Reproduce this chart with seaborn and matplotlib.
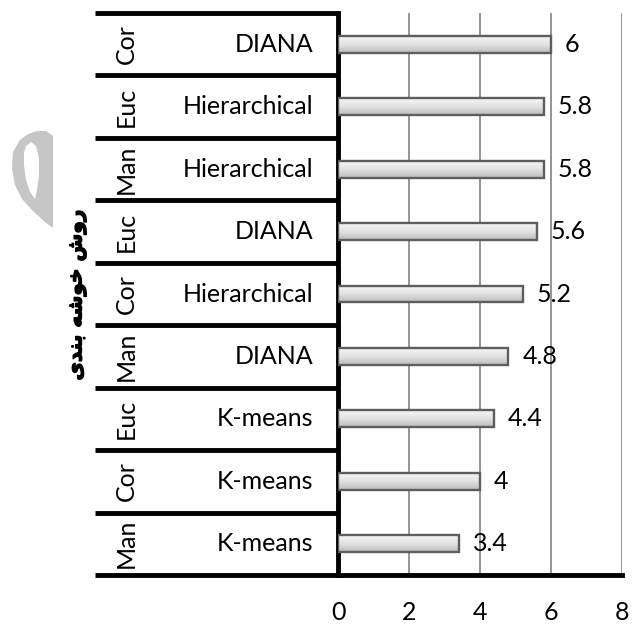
import matplotlib.pyplot as plt
import matplotlib.patheffects as pe
import numpy as np
import pandas as pd
import seaborn as sns
from matplotlib.colors import LinearSegmentedColormap
from matplotlib.patches import Polygon
from matplotlib.transforms import blended_transform_factory

# rows from top to bottom
distances = ["Cor", "Euc", "Man", "Euc", "Cor", "Man", "Euc", "Cor", "Man"]
methods = ["DIANA", "Hierarchical", "Hierarchical", "DIANA", "Hierarchical",
           "DIANA", "K-means", "K-means", "K-means"]
scores = [6, 5.8, 5.8, 5.6, 5.2, 4.8, 4.4, 4, 3.4]
x_ticks = [0, 2, 4, 6, 8]
axis_title = "روش خوشه بندی"

# contextual forms (isolated, final, initial, medial) for the letters used
FORMS = {
    "ر": ("\ufead", "\ufeae", None, None),
    "و": ("\ufeed", "\ufeee", None, None),
    "د": ("\ufea9", "\ufeaa", None, None),
    "ش": ("\ufeb5", "\ufeb6", "\ufeb7", "\ufeb8"),
    "خ": ("\ufea5", "\ufea6", "\ufea7", "\ufea8"),
    "ه": ("\ufee9", "\ufeea", "\ufeeb", "\ufeec"),
    "ب": ("\ufe8f", "\ufe90", "\ufe91", "\ufe92"),
    "ن": ("\ufee5", "\ufee6", "\ufee7", "\ufee8"),
    "ی": ("\ufeef", "\ufbfd", "\ufbfe", "\ufbff"),
}


def shape_farsi(text):
    out = []
    for word in text.split(" "):
        chars = list(word)
        shaped = []
        for i, ch in enumerate(chars):
            iso, fin, ini, med = FORMS[ch]
            prev_joins = i > 0 and FORMS[chars[i - 1]][2] is not None
            next_exists = i < len(chars) - 1
            if prev_joins and next_exists and med:
                shaped.append(med)
            elif prev_joins:
                shaped.append(fin)
            elif next_exists and ini:
                shaped.append(ini)
            else:
                shaped.append(iso)
        out.append("".join(shaped))
    return " ".join(out)[::-1]


df = pd.DataFrame({"distance": distances, "method": methods, "score": scores})
df["row"] = df["distance"] + " " + df["method"]

sns.set_style("white")
plt.rcParams["font.family"] = ["Lato", "DejaVu Sans"]
plt.rcParams["text.color"] = "black"
plt.rcParams["xtick.color"] = "black"

W, H = 635, 630
fig = plt.figure(figsize=(W / 100, H / 100), dpi=100)
ax = fig.add_axes([338 / W, 1 - 575 / H, (622 - 338) / W, (575 - 13) / H])

sns.barplot(data=df, x="score", y="row", orient="h", width=0.27,
            color="#dcdcdc", edgecolor="#5e5e5e", linewidth=1.7, ax=ax, zorder=3)

# soft vertical gradient inside each bar
cmap = LinearSegmentedColormap.from_list("bar", ["#f6f6f6", "#e2e2e2", "#bcbcbc"])
grad = np.linspace(0, 1, 64).reshape(-1, 1)
for patch in ax.patches:
    x0, y0 = patch.get_x(), patch.get_y()
    w, h = patch.get_width(), patch.get_height()
    im = ax.imshow(grad, cmap=cmap, aspect="auto", extent=(x0, x0 + w, y0 + h, y0),
                   zorder=2.9, interpolation="bilinear")
    im.set_clip_path(patch)
    patch.set_facecolor("none")

ax.set_xlim(0, 8)
ax.set_ylim(len(scores) - 0.5, -0.5)
ax.set_xticks(x_ticks)
ax.set_xlabel("")
ax.set_ylabel("")
ax.tick_params(axis="y", length=0, labelleft=False)
ax.tick_params(axis="x", direction="out", length=6, width=3, color="black",
               labelsize=18, pad=13)
ax.xaxis.grid(True, color="#8c8c8c", linewidth=1.3)
ax.set_axisbelow(True)
sns.despine(ax=ax, top=True, right=True)
for side in ("left", "bottom"):
    ax.spines[side].set_linewidth(3.5)
    ax.spines[side].set_color("black")

ax.bar_label(ax.containers[0], labels=[f"{v:g}" for v in scores],
             padding=10, fontsize=18)

# two-level category table on the left
blend = blended_transform_factory(ax.transAxes, ax.transData)
px = (622 - 338)
left_edge = -(338 - 95) / px
for i in range(len(scores) + 1):
    ax.plot([left_edge, 0], [i - 0.5, i - 0.5], color="black", lw=3.5,
            transform=blend, clip_on=False, solid_capstyle="butt")
for i, (d, m) in enumerate(zip(distances, methods)):
    ax.text(-(338 - 126) / px, i, d, transform=blend, rotation=90,
            ha="center", va="center", fontsize=18)
    ax.text(-(338 - 313) / px, i, m, transform=blend,
            ha="right", va="center", fontsize=18)

fig.text(77 / W, 1 - 295 / H, shape_farsi(axis_title), rotation=90,
         ha="center", va="center", fontsize=14.5, fontweight="bold",
         family=["DejaVu Sans"],
         path_effects=[pe.withStroke(linewidth=0.9, foreground="black")])

# grey watermark glyph at the far left
outer = [(37, 131), (46, 131), (53, 136), (53, 228), (45, 222), (33, 211),
         (22, 199), (15, 185), (12, 168), (13, 152), (20, 140), (28, 134)]
inner = [(26, 146), (31, 142), (36, 146), (39, 158), (39, 175), (37, 190),
         (35, 199), (30, 192), (26, 180), (24, 165), (24, 153)]
for pts, col in ((outer, "#c6c6c6"), (inner, "white")):
    fig.add_artist(Polygon([(x / W, 1 - y / H) for x, y in pts], closed=True,
                           transform=fig.transFigure, facecolor=col,
                           edgecolor="none"))

fig.savefig("out.png", dpi=100)
